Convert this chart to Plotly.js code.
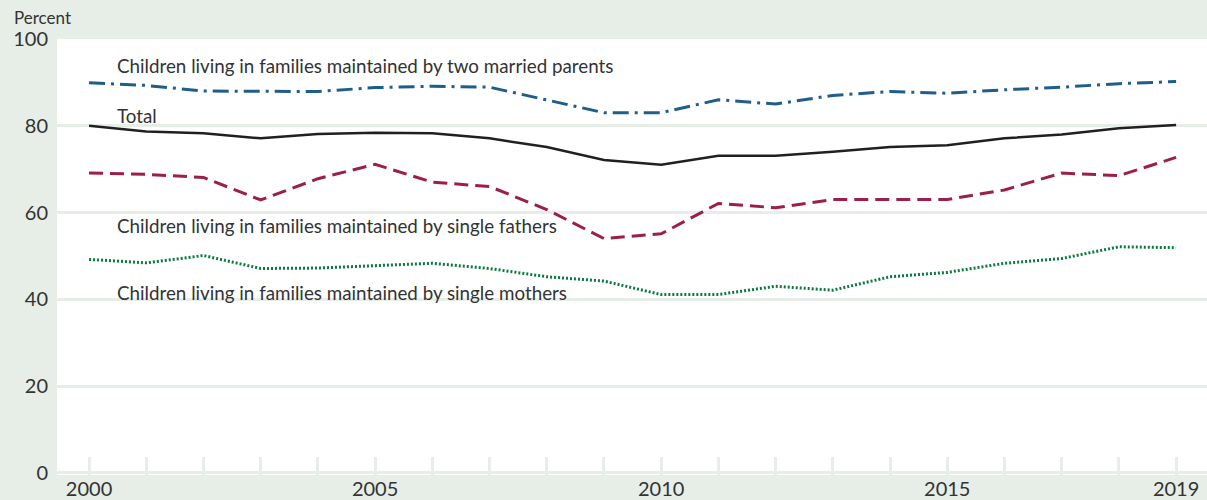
<!DOCTYPE html>
<html>
<head>
<meta charset="utf-8">
<script src="https://cdn.plot.ly/plotly-3.0.1.min.js"></script>
<style>html,body{margin:0;padding:0;background:#e6eee7;}#chart{width:1207px;height:500px;}</style>
</head>
<body>
<div id="chart"></div>
<script>
const years = [2000,2001,2002,2003,2004,2005,2006,2007,2008,2009,2010,2011,2012,2013,2014,2015,2016,2017,2018,2019];
const twoMarried = [89.9,89.3,88.0,87.9,87.9,88.8,89.1,88.9,86.0,83.0,83.0,86.0,85.0,87.0,87.9,87.5,88.3,88.9,89.7,90.2];
const total = [80.0,78.7,78.3,77.1,78.1,78.4,78.3,77.1,75.1,72.1,71.0,73.1,73.1,74.0,75.1,75.5,77.1,78.0,79.4,80.2];
const singleFathers = [69.1,68.8,68.1,62.9,67.8,71.1,67.0,66.0,60.7,54.0,55.1,62.1,61.1,63.0,63.0,63.0,65.2,69.1,68.5,72.7];
const singleMothers = [49.2,48.4,50.1,47.1,47.2,47.8,48.3,47.1,45.2,44.2,41.1,41.1,43.0,42.1,45.2,46.2,48.3,49.4,52.1,51.9];
const xTickLabels = ["2000","","","","","2005","","","","","2010","","","","","2015","","","","2019"];
const yTickVals = [0,20,40,60,80,100];
const labels = [
  {text:"Children living in families maintained by two married parents", year:2000.45, value:93.8},
  {text:"Total", year:2000.45, value:82.4},
  {text:"Children living in families maintained by single fathers", year:2000.45, value:56.9},
  {text:"Children living in families maintained by single mothers", year:2000.45, value:41.6}
];

const FONT = "Lato, 'Open Sans', sans-serif";
const traces = [
  {x:years, y:twoMarried, mode:'lines', line:{color:'#1f5d8a', width:3, dash:'16px,6px,3px,6px'}},
  {x:years, y:total, mode:'lines', line:{color:'#231f20', width:2.5}},
  {x:years, y:singleFathers, mode:'lines', line:{color:'#9c1f48', width:3, dash:'14px,7px'}},
  {x:years, y:singleMothers, mode:'lines', line:{color:'#0b7a3e', width:3, dash:'2px,2px'}}
];

const layout = {
  width:1207, height:500,
  margin:{l:57, r:0, t:39, b:25},
  paper_bgcolor:'#e6eee7',
  plot_bgcolor:'#ffffff',
  showlegend:false,
  font:{family:FONT, color:'#333333'},
  xaxis:{
    range:[1999.44, 2019.54],
    tickvals:years, ticktext:xTickLabels,
    ticks:'inside', ticklen:18, tickwidth:3, tickcolor:'#e6eee7',
    showgrid:false, zeroline:false, showline:false,
    tickfont:{size:20, family:FONT, color:'#333333'},
    fixedrange:true
  },
  yaxis:{
    range:[-0.5, 100],
    tickvals:yTickVals,
    showgrid:true, gridcolor:'#e6eee7', gridwidth:3,
    zeroline:false, showline:false, ticks:'',
    ticklabelstandoff:8,
    tickfont:{size:20, family:FONT, color:'#333333'},
    fixedrange:true
  },
  annotations: labels.map(l => ({
    x:l.year, y:l.value, xref:'x', yref:'y', text:l.text, showarrow:false,
    xanchor:'left', yanchor:'middle', font:{size:18.8, family:FONT, color:'#333333'}
  })).concat([{
    x:(12-57)/1150, y:1 + (39-18)/436, xref:'paper', yref:'paper', text:'Percent', showarrow:false,
    xanchor:'left', yanchor:'middle', font:{size:17, family:FONT, color:'#333333'}
  }])
};

Plotly.newPlot('chart', traces, layout, {displayModeBar:false, staticPlot:true});
</script>
</body>
</html>
